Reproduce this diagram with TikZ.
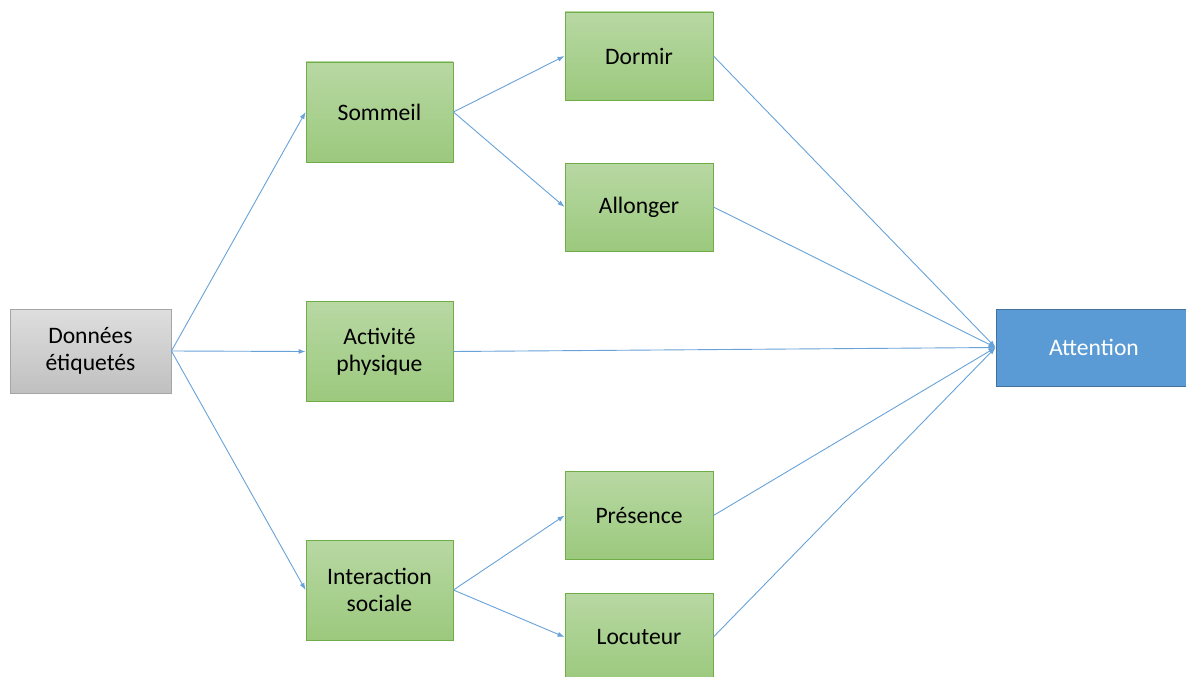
\documentclass[tikz,border=0pt]{standalone}
\usepackage{fontspec}
\setmainfont{Carlito}
\usetikzlibrary{arrows.meta}
\definecolor{leafedge}{RGB}{112,173,71}
\definecolor{leaftop}{RGB}{184,216,163}
\definecolor{leafbottom}{RGB}{155,201,125}
\definecolor{rawedge}{RGB}{165,165,165}
\definecolor{rawtop}{RGB}{222,222,222}
\definecolor{rawbottom}{RGB}{192,192,192}
\definecolor{goalfill}{RGB}{91,155,213}
\definecolor{goaledge}{RGB}{65,113,156}
\definecolor{linkblue}{RGB}{104,162,216}

\begin{document}
\begin{tikzpicture}[x=1pt,y=-1pt,
  every node/.style={font=\fontsize{23.6}{27}\selectfont,align=center,inner sep=0pt},
  catbox/.style={draw=leafedge,line width=0.9pt,top color=leaftop,bottom color=leafbottom,minimum width=147pt,minimum height=100pt},
  subbox/.style={catbox,minimum width=148pt,minimum height=88pt},
  link/.style={draw=linkblue,line width=0.9pt,-{Latex[length=7pt,width=5pt]}}]
  \useasboundingbox (0,0) rectangle (1186,677);
  % entree et sortie
  \node[draw=rawedge,line width=0.9pt,top color=rawtop,bottom color=rawbottom,
        minimum width=161pt,minimum height=84pt] (donnees) at (90.5,351) {Données\\étiquetés};
  \node[draw=goaledge,line width=0.9pt,fill=goalfill,text=white,
        minimum width=196pt,minimum height=77pt] (attention) at (1094,347.5) {Attention};
  % categories
  \node[catbox] (sommeil) at (379.5,112) {Sommeil};
  \node[catbox] (activite) at (379.5,351.5) {Activité\\physique};
  \node[catbox] (interaction) at (379.5,590) {Interaction\\sociale};
  % sous-categories
  \node[subbox] (dormir) at (639,56) {Dormir};
  \node[subbox] (allonger) at (639,207) {Allonger};
  \node[subbox] (presence) at (639,515.5) {Présence};
  \node[subbox] (locuteur) at (639,637) {Locuteur};
  % liens
  \foreach \a/\b in {donnees/sommeil,donnees/activite,donnees/interaction,
                     sommeil/dormir,sommeil/allonger,
                     interaction/presence,interaction/locuteur,
                     dormir/attention,allonger/attention,activite/attention,
                     presence/attention,locuteur/attention}
    \draw[link] (\a.east) -- (\b.west);
\end{tikzpicture}
\end{document}
